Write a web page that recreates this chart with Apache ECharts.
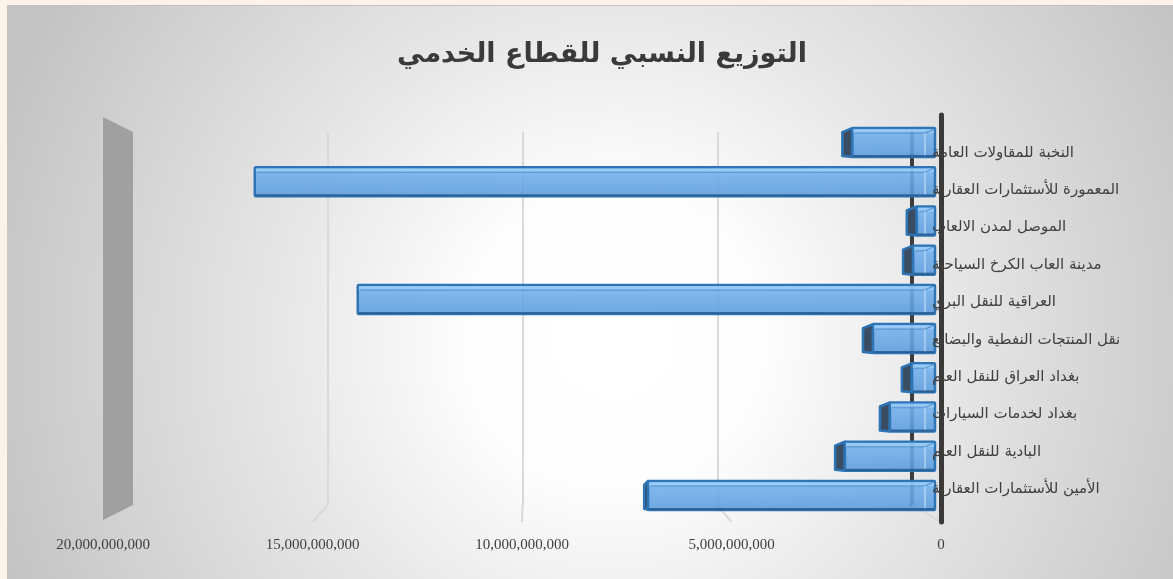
<!DOCTYPE html>
<html>
<head>
<meta charset="utf-8">
<script src="https://cdn.jsdelivr.net/npm/echarts@6/dist/echarts.min.js"></script>
<style>
html, body { margin: 0; padding: 0; background: #fbf3ea; }
#chart { position: absolute; left: 7px; top: 5px; width: 1166px; height: 574px; border-top: 1px solid #c2c2c2; box-sizing: border-box; }
</style>
</head>
<body>
<div id="chart"></div>
<script>
const categories = [
    'النخبة للمقاولات العامة',
    'المعمورة للأستثمارات العقارية',
    'الموصل لمدن الالعاب',
    'مدينة العاب الكرخ السياحية',
    'العراقية للنقل البري',
    'نقل المنتجات النفطية والبضائع',
    'بغداد العراق للنقل العام',
    'بغداد لخدمات السيارات',
    'البادية للنقل العام',
    'الأمين للأستثمارات العقارية'
];
const values = [2000000000, 16450000000, 440000000, 530000000, 13960000000, 1500000000, 560000000, 1090000000, 2180000000, 6940000000];
const xTicks = [0, 5000000000, 10000000000, 15000000000, 20000000000];

// planes of the fake 3d box (px inside the chart div)
const FRONT = { left: 96, right: 232, top: 109, bottom: 57 };
const BACK = { left: 126, right: 261, top: 126, bottom: 74 };
const BARS = { left: 101, right: 238, top: 117, bottom: 64 };
const LABELS = { left: 126, right: 261, top: 128, bottom: 71 };
const H = 573;

const xMax = xTicks[xTicks.length - 1];
const xStep = xTicks[1] - xTicks[0];

function valueAxis(gridIndex, extra) {
    return Object.assign({
        type: 'value',
        gridIndex: gridIndex,
        min: xTicks[0],
        max: xMax,
        interval: xStep,
        inverse: true,
        axisLine: { show: false },
        axisTick: { show: false },
        axisLabel: { show: false },
        splitLine: { show: false }
    }, extra || {});
}

function catAxis(gridIndex, extra) {
    return Object.assign({
        type: 'category',
        gridIndex: gridIndex,
        data: categories,
        inverse: true,
        position: 'right',
        axisTick: { show: false },
        axisLabel: { show: false },
        axisLine: { show: false },
        splitLine: { show: false }
    }, extra || {});
}

function renderBar(params, api) {
    const v = api.value(0);
    const i = api.value(1);
    const start = api.coord([0, i]);
    const end = api.coord([v, i]);
    const h = api.size([0, 1])[1] * 0.74;
    const x0 = start[0];
    const x1 = end[0];
    const yT = start[1] - h / 2;
    const yB = start[1] + h / 2;
    const dw = Math.max(0, Math.min(10, (x1 - 513) * 0.03));
    const children = [];
    if (dw > 1) {
        children.push({
            type: 'polygon',
            shape: { points: [[x1 - dw, yT + 4], [x1, yT], [x1, yB], [x1 - dw, yB - 1]] },
            style: { fill: '#3b4d63', stroke: '#2e75b6', lineWidth: 2.5, lineJoin: 'round' }
        });
    }
    children.push({
        type: 'rect',
        shape: { x: x1, y: yT, width: x0 - x1, height: h, r: 1 },
        style: {
            fill: new echarts.graphic.LinearGradient(0, 0, 0, 1, [
                { offset: 0, color: 'rgba(120,182,240,0.88)' },
                { offset: 1, color: 'rgba(88,154,220,0.88)' }
            ]),
            stroke: '#2e75b6',
            lineWidth: 2.5
        }
    });
    // top face and back edges
    children.push({
        type: 'rect',
        shape: { x: x1 + 1, y: yT + 1, width: x0 - x1 - 2, height: 4 },
        style: { fill: 'rgba(170,215,255,0.55)' }
    });
    children.push({
        type: 'line',
        shape: { x1: x1 + 2, y1: yT + 5, x2: x0 - 10, y2: yT + 5 },
        style: { stroke: 'rgba(46,117,182,0.45)', lineWidth: 1.5 }
    });
    children.push({
        type: 'line',
        shape: { x1: x0 - 10, y1: yT + 5, x2: x0 - 10, y2: yB - 1 },
        style: { stroke: 'rgba(190,220,250,0.8)', lineWidth: 1.5 }
    });
    children.push({
        type: 'line',
        shape: { x1: x0 - 10, y1: yT + 5, x2: x0 - 1, y2: yT + 1 },
        style: { stroke: 'rgba(46,117,182,0.6)', lineWidth: 1.2 }
    });
    children.push({
        type: 'line',
        shape: { x1: x1 + 1, y1: yB - 1, x2: x0 - 1, y2: yB - 1 },
        style: { stroke: 'rgba(40,90,140,0.8)', lineWidth: 2 }
    });
    return { type: 'group', children: children };
}

const chart = echarts.init(document.getElementById('chart'));

const option = {
    backgroundColor: {
        type: 'radial',
        x: 0.52,
        y: 0.58,
        r: 1.13,
        colorStops: [
            { offset: 0, color: '#ffffff' },
            { offset: 0.22, color: '#fefefe' },
            { offset: 0.5, color: '#e8e8e8' },
            { offset: 1, color: '#c4c4c4' }
        ]
    },
    title: {
        text: 'التوزيع النسبي للقطاع الخدمي',
        left: 590,
        top: 30,
        textAlign: 'center',
        textStyle: {
            fontFamily: 'DejaVu Sans',
            fontSize: 27,
            fontWeight: 'bold',
            color: '#3a3a3a'
        }
    },
    grid: [
        Object.assign({}, FRONT),
        Object.assign({}, BACK),
        Object.assign({}, BARS),
        Object.assign({}, LABELS)
    ],
    xAxis: [
        valueAxis(0, {
            axisLabel: {
                show: true,
                margin: 16,
                fontFamily: 'Liberation Serif',
                fontSize: 15,
                color: '#404040',
                formatter: (v) => v.toLocaleString('en-US')
            }
        }),
        valueAxis(1, {
            splitLine: {
                show: true,
                showMinLine: false,
                showMaxLine: false,
                lineStyle: { color: '#d9d9d9', width: 2 }
            }
        }),
        valueAxis(2),
        valueAxis(3)
    ],
    yAxis: [
        catAxis(0, {
            z: 5,
            axisLine: { show: true, lineStyle: { color: '#3a3a3a', width: 5, cap: 'round' } }
        }),
        catAxis(1, {
            z: 0,
            axisLine: { show: true, lineStyle: { color: '#3d3d3d', width: 4 } }
        }),
        catAxis(2),
        catAxis(3, {
            z: 6,
            axisLabel: {
                show: true,
                margin: 20,
                align: 'left',
                fontFamily: 'DejaVu Sans',
                fontSize: 15,
                color: '#404040'
            }
        })
    ],
    series: [
        {
            type: 'custom',
            xAxisIndex: 2,
            yAxisIndex: 2,
            z: 3,
            renderItem: renderBar,
            encode: { x: 0, y: 1 },
            data: values.map((v, i) => [v, i])
        }
    ]
};

chart.setOption(option);

// floor lines and side wall, placed with the two axes' scales
const fx = (v) => chart.convertToPixel({ xAxisIndex: 0 }, v);
const bx = (v) => chart.convertToPixel({ xAxisIndex: 1 }, v);
const frontTop = FRONT.top, frontBottom = H - FRONT.bottom;
const backTop = BACK.top, backBottom = H - BACK.bottom;
const graphics = [];
xTicks.slice(0, -1).forEach((t) => {
    graphics.push({
        type: 'line',
        z: 1,
        shape: { x1: bx(t), y1: backBottom, x2: fx(t), y2: frontBottom },
        style: { stroke: '#d9d9d9', lineWidth: 2 }
    });
});
graphics.push({
    type: 'polygon',
    z: 1,
    shape: { points: [[fx(xMax), frontTop + 2], [bx(xMax), backTop], [bx(xMax), backBottom], [fx(xMax), frontBottom - 2]] },
    style: { fill: '#a0a0a0' }
});
chart.setOption({ graphic: graphics });
</script>
</body>
</html>
